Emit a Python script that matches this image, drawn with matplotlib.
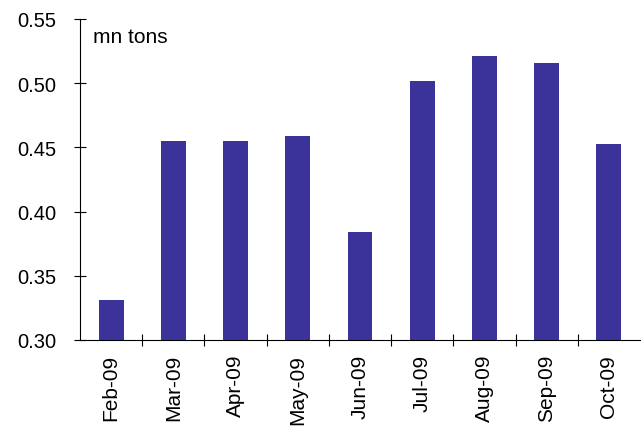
import matplotlib
matplotlib.use("Agg")
import matplotlib.pyplot as plt
import numpy as np

plt.rcParams['font.family'] = ['Liberation Sans', 'DejaVu Sans']

months = ["Feb-09", "Mar-09", "Apr-09", "May-09", "Jun-09",
          "Jul-09", "Aug-09", "Sep-09", "Oct-09"]
values = [0.331, 0.455, 0.455, 0.459, 0.384, 0.502, 0.521, 0.516, 0.453]
yticks = [0.30, 0.35, 0.40, 0.45, 0.50, 0.55]

fig = plt.figure(figsize=(6.41, 4.27), dpi=100)
ax = fig.add_axes([80 / 641, 1 - 341 / 427, 560 / 641, 321 / 427])

x = np.arange(len(months))
ax.bar(x, values, width=0.4, color="#3b3399", zorder=2)

ax.set_xlim(-0.5, len(months) - 0.5)
ax.set_ylim(0.30, 0.55)
ax.set_yticks(yticks)
ax.set_yticklabels([f"{v:.2f}" for v in yticks], fontsize=14.5)

# category labels at centres, tick marks between categories
ax.set_xticks(x)
ax.set_xticklabels(months, rotation=90, fontsize=15)
ax.tick_params(axis='x', length=0, pad=10)
ax.set_xticks(np.arange(0.5, len(months) - 0.5, 1), minor=True)
ax.tick_params(axis='x', which='minor', direction='inout', length=8, width=0.8)
ax.tick_params(axis='y', direction='inout', length=8.5, width=0.8, pad=13)

for s in ['top', 'right']:
    ax.spines[s].set_visible(False)
for s in ['left', 'bottom']:
    ax.spines[s].set_linewidth(0.8)

ax.text(0.023, 0.975, "mn tons", transform=ax.transAxes, fontsize=15,
        va='top', ha='left')

fig.savefig("out.png", dpi=100)
